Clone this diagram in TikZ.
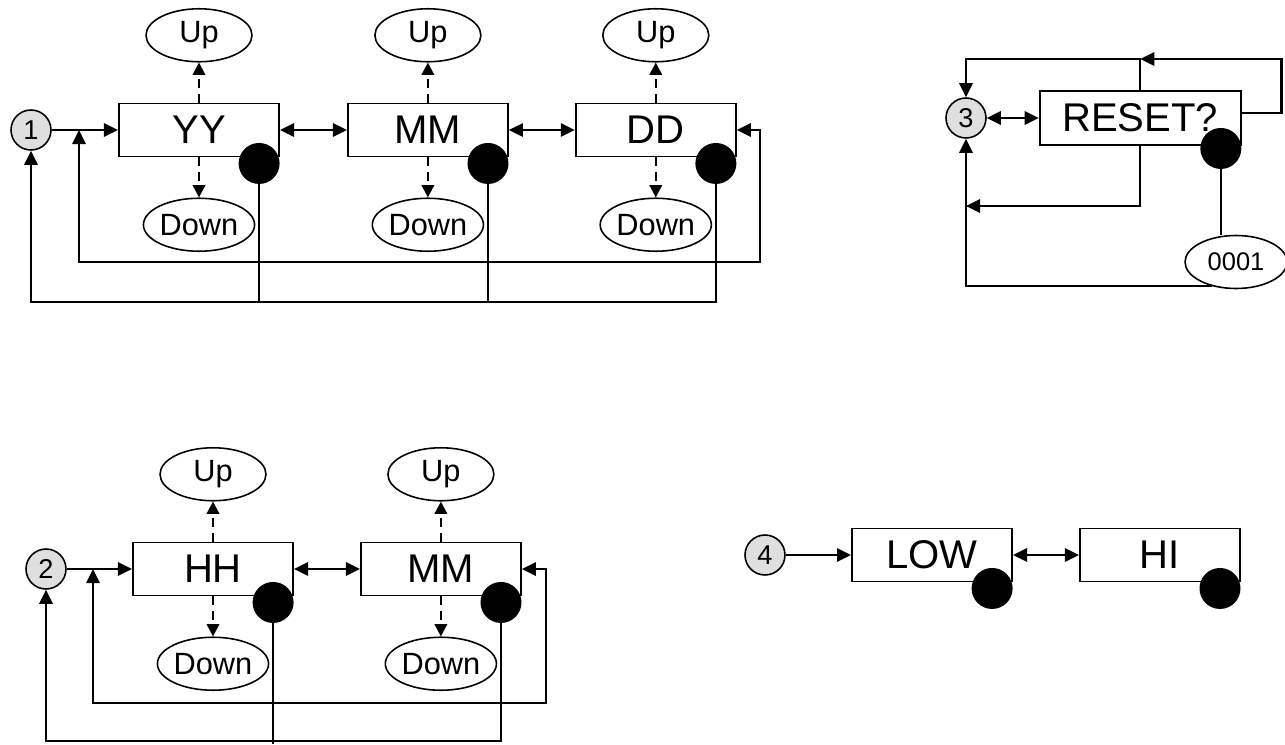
\documentclass[tikz,border=0pt]{standalone}
\usepackage{fontspec}
\setmainfont{Liberation Sans}
\usetikzlibrary{arrows.meta,positioning,shapes.geometric}

\begin{document}
\begin{tikzpicture}[x=0.02cm, y=-0.02cm,
    box/.style={draw, line width=1.1pt, minimum width=3.2cm, minimum height=1.06cm,
                inner sep=0pt, font=\fontsize{22.8}{26}\selectfont},
    oval/.style={draw, ellipse, line width=0.9pt, minimum width=2.12cm, minimum height=1.06cm,
                 inner sep=0pt, font=\fontsize{17.5}{20}\selectfont},
    num/.style={draw, circle, line width=0.9pt, fill=gray!25, minimum size=0.8cm,
                inner sep=0pt, font=\fontsize{15.5}{18}\selectfont},
    dot/.style={circle, fill=black, minimum size=0.82cm, inner sep=0pt},
    arr/.style={-{Triangle[length=8pt, width=7.5pt]}, line width=1.4pt},
    dbl/.style={{Triangle[length=8pt, width=7.5pt]}-{Triangle[length=8pt, width=7.5pt]}, line width=1.4pt},
    dasharr/.style={-{Triangle[length=7pt, width=7pt]}, line width=1.4pt, dash pattern=on 5pt off 3.5pt},
    wire/.style={line width=1.1pt}
  ]
  \useasboundingbox (0,0) rectangle (1285,744);

  % date
  \node[num] (n1) at (31,130) {1};
  \node[box] (yy) at (199,130) {YY};
  \node[box, right=1.34cm of yy] (mm) {MM};
  \node[box, right=1.32cm of mm] (dd) {DD};
  \foreach \b in {yy,mm,dd}{
    \node[oval, above=0.8cm of \b] (\b up) {Up};
    \node[oval, below=0.8cm of \b] (\b down) {Down};
    \node[dot, anchor=east] (\b dot) at ([yshift=-0.12cm]\b.south east) {};
    \draw[dasharr] (\b) -- (\b up);
    \draw[dasharr] (\b) -- (\b down);
  }
  \coordinate (loopa) at (79,130);
  \coordinate (loopb) at (760,262);
  \coordinate (outer) at (0,302);
  \draw[arr] (n1) -- (yy);
  \draw[dbl] (yy) -- (mm);
  \draw[dbl] (mm) -- (dd);
  \draw[dbl] (loopa) |- (loopb) |- (dd.east);
  \draw[arr] (dddot.south) -- (dddot.south |- outer) -| (n1.south);
  \draw[wire] (yydot.south) -- (yydot.south |- outer);
  \draw[wire] (mmdot.south) -- (mmdot.south |- outer);

  % reset
  \node[num] (n3) at (966,118) {3};
  \node[box, minimum width=4.02cm, minimum height=1.08cm, right=1.04cm of n3] (reset) {RESET?};
  \node[dot, anchor=east] (resetdot) at ([yshift=-0.05cm]reset.south east) {};
  \node[oval, minimum width=2.04cm, font=\fontsize{14.5}{16}\selectfont] (zero) at (1236,262) {0001};
  \coordinate (rtop) at (0,59);
  \coordinate (rbot) at (0,206);
  \draw[dbl] (n3) -- (reset);
  \draw[arr] ([yshift=0.1cm]reset.east) -- ++(0.8cm,0) |- (reset.north |- rtop);
  \draw[arr] (reset.north) -- (reset.north |- rtop) -| (n3.north);
  \draw[arr] (reset.south) |- (n3 |- rbot);
  \draw[wire] (resetdot.south) -- (resetdot.south |- zero.north);
  \draw[arr] (zero.225) -| (n3.south);

  % time
  \node[num] (n2) at (46,569) {2};
  \node[box] (hh) at (213,569) {HH};
  \node[box, right=1.32cm of hh] (mi) {MM};
  \foreach \b in {hh,mi}{
    \node[oval, above=0.8cm of \b] (\b up) {Up};
    \node[oval, below=0.8cm of \b] (\b down) {Down};
    \node[dot, anchor=east] (\b dot) at ([yshift=-0.12cm]\b.south east) {};
    \draw[dasharr] (\b) -- (\b up);
    \draw[dasharr] (\b) -- (\b down);
  }
  \coordinate (loopc) at (93,569);
  \coordinate (loopd) at (546,703);
  \coordinate (outerb) at (0,741);
  \draw[arr] (n2) -- (hh);
  \draw[dbl] (hh) -- (mi);
  \draw[dbl] (loopc) |- (loopd) |- (mi.east);
  \draw[arr] (midot.south) -- (midot.south |- outerb) -| (n2.south);
  \draw[wire] (hhdot.south) -- (hhdot.south |- 0,744);

  % level
  \node[num] (n4) at (765,555) {4};
  \node[box] (low) at (932,555) {LOW};
  \node[box, right=1.32cm of low] (hi) {HI};
  \node[dot, anchor=east] (lowdot) at ([yshift=-0.12cm]low.south east) {};
  \node[dot, anchor=east] (hidot) at ([yshift=-0.12cm]hi.south east) {};
  \draw[arr] (n4) -- (low);
  \draw[dbl] (low) -- (hi);
\end{tikzpicture}
\end{document}
